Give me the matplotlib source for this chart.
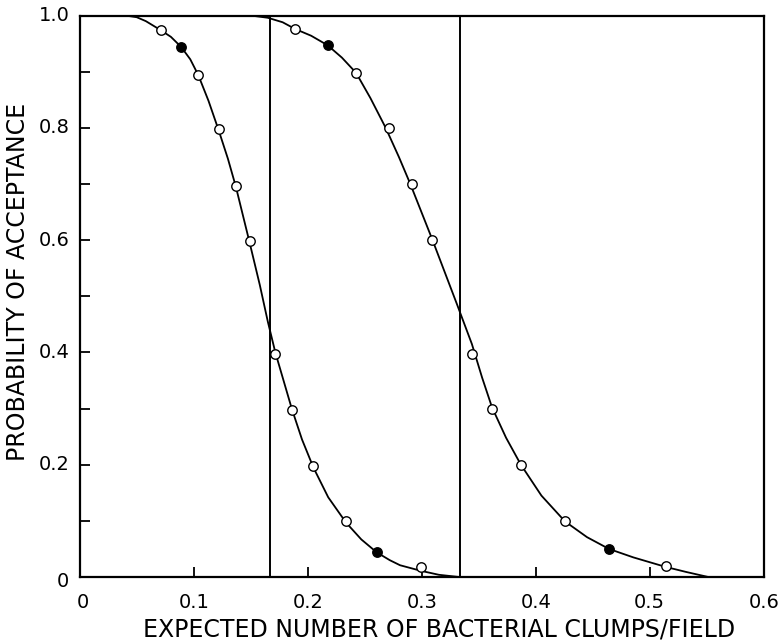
import numpy as np
import matplotlib
matplotlib.use("Agg")
import matplotlib.pyplot as plt

# smooth curves, vertices
curve1_x = [0.040, 0.050, 0.058, 0.071, 0.080, 0.089, 0.097, 0.104, 0.113, 0.122, 0.130, 0.137,
            0.149, 0.158, 0.165, 0.1716, 0.186, 0.195, 0.205, 0.218, 0.2336, 0.247, 0.2605,
            0.272, 0.281, 0.2994, 0.315, 0.333]
curve1_y = [1.000, 0.997, 0.990, 0.974, 0.962, 0.944, 0.922, 0.894, 0.848, 0.795, 0.745, 0.695,
            0.596, 0.520, 0.455, 0.400, 0.300, 0.245, 0.195, 0.142, 0.097, 0.067, 0.044,
            0.030, 0.021, 0.011, 0.004, 0.000]

curve2_x = [0.150, 0.165, 0.178, 0.189, 0.203, 0.2175, 0.230, 0.2424, 0.255, 0.2684, 0.280,
            0.290, 0.3093, 0.3307, 0.344, 0.353, 0.3617, 0.374, 0.387, 0.405, 0.4257, 0.445,
            0.4643, 0.4856, 0.514, 0.532, 0.5515]
curve2_y = [1.000, 0.996, 0.988, 0.976, 0.964, 0.947, 0.925, 0.898, 0.853, 0.800, 0.748,
            0.700, 0.601, 0.487, 0.415, 0.355, 0.302, 0.248, 0.200, 0.145, 0.099, 0.071,
            0.050, 0.035, 0.018, 0.009, 0.000]

# plotted points (open and filled circles)
open1_x = [0.071, 0.104, 0.122, 0.137, 0.149, 0.1716, 0.186, 0.205, 0.2336, 0.2994]
open1_y = [0.974, 0.894, 0.798, 0.697, 0.598, 0.398, 0.298, 0.198, 0.099, 0.017]
fill1_x = [0.089, 0.2605]
fill1_y = [0.944, 0.045]

open2_x = [0.189, 0.2424, 0.2716, 0.2912, 0.3093, 0.344, 0.3617, 0.3871, 0.4257, 0.514]
open2_y = [0.976, 0.898, 0.799, 0.700, 0.601, 0.398, 0.299, 0.200, 0.100, 0.020]
fill2_x = [0.2175, 0.4643]
fill2_y = [0.947, 0.050]

vlines_x = [1 / 6, 1 / 3]

xticks = [0, 0.1, 0.2, 0.3, 0.4, 0.5, 0.6]
xtick_labels = ["0", "0.1", "0.2", "0.3", "0.4", "0.5", "0.6"]
yticks = [0, 0.2, 0.4, 0.6, 0.8, 1.0]
ytick_labels = ["0", "0.2", "0.4", "0.6", "0.8", "1.0"]

plt.rcParams['font.family'] = ['DejaVu Sans']

fig = plt.figure(figsize=(7.79, 6.41), dpi=100)
ax = fig.add_axes([0.1023, 0.0998, 0.8781, 0.876])

ax.plot(curve1_x, curve1_y, color="black", lw=1.3)
ax.plot(curve2_x, curve2_y, color="black", lw=1.3)

for xv in vlines_x:
    ax.plot([xv, xv], [0, 1], color="black", lw=1.4)

ms = 6.8
ax.plot(open1_x, open1_y, 'o', ms=ms, mfc="white", mec="black", mew=1.0, zorder=3)
ax.plot(open2_x, open2_y, 'o', ms=ms, mfc="white", mec="black", mew=1.0, zorder=3)
ax.plot(fill1_x, fill1_y, 'o', ms=ms, mfc="black", mec="black", mew=1.0, zorder=3)
ax.plot(fill2_x, fill2_y, 'o', ms=ms, mfc="black", mec="black", mew=1.0, zorder=3)

ax.set_xlim(0, 0.6)
ax.set_ylim(0, 1.0)

ax.set_xticks([0.1, 0.2, 0.3, 0.4, 0.5])
ax.set_xticklabels([])
ax.set_yticks(np.round(np.arange(0, 1.01, 0.1), 1))
ax.set_yticklabels([])
ax.tick_params(direction="in", length=7, width=1.3)

# tick labels as text, placed like in the original
for xv, lab in zip(xticks, xtick_labels):
    dx = 0.003 if xv == 0 else 0
    ax.text(xv + dx, -0.029, lab, ha="center", va="top", fontsize=14,
            transform=ax.get_xaxis_transform())
for yv, lab in zip(yticks, ytick_labels):
    dy = -0.008 if yv == 0 else 0
    ax.text(-0.015, yv + dy, lab, ha="right", va="center", fontsize=14,
            transform=ax.get_yaxis_transform())

for s in ax.spines.values():
    s.set_linewidth(1.6)

ax.set_xlabel("EXPECTED NUMBER OF BACTERIAL CLUMPS/FIELD", fontsize=17)
ax.xaxis.set_label_coords(0.525, -0.072)
ax.set_ylabel("PROBABILITY OF ACCEPTANCE", fontsize=17)
ax.yaxis.set_label_coords(-0.073, 0.525)

fig.savefig("out.png", dpi=100)
